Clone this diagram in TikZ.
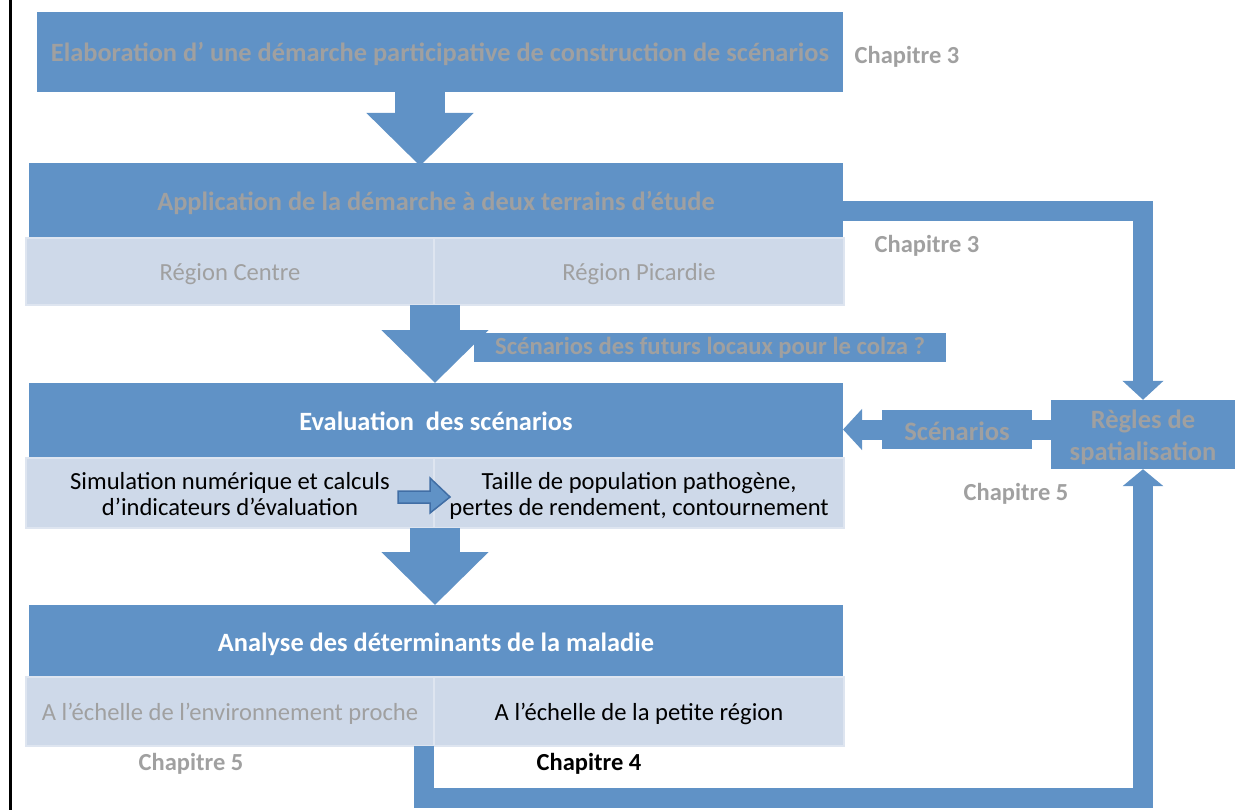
\documentclass[tikz,border=0pt]{standalone}
\usepackage{fontspec}
\setmainfont{Carlito}
\usetikzlibrary{arrows.meta,calc}
\definecolor{mainblue}{RGB}{96,146,198}
\definecolor{lightblue}{RGB}{206,217,233}
\definecolor{subborder}{RGB}{222,229,240}
\definecolor{graytxt}{RGB}{160,160,160}
\definecolor{arrowline}{RGB}{65,110,165}
\begin{document}
\begin{tikzpicture}[x=1pt,y=-1pt,
  bigbox/.style={fill=mainblue,inner sep=0pt,outer sep=0pt,minimum width=814pt,minimum height=75pt,text height=25pt,text depth=5pt,font=\fontsize{26.4}{30}\selectfont\bfseries},
  subbox/.style={fill=lightblue,draw=subborder,line width=1.5pt,inner sep=0pt,outer sep=0pt,minimum height=68pt,text height=23pt,text depth=5pt,font=\fontsize{24.6}{26}\selectfont,align=center},
  twoline/.style={text height=49pt,text depth=5pt},
  gtxt/.style={text=graytxt},
  chap/.style={font=\fontsize{24.5}{28}\selectfont\bfseries,inner sep=0pt},
  downarrow/.style={draw=mainblue,line width=50pt,-{Triangle[length=53pt,width=104pt]}},
  band/.style={draw=mainblue,line width=20pt,line join=miter},
]
\useasboundingbox (0,0) rectangle (1247,810);
\draw[line width=3pt] (10,0) -- (10,810);

% boxes
\node[bigbox,gtxt,minimum width=806pt,minimum height=80pt] (b1) at (440,52) {Elaboration d’ une démarche participative de construction de scénarios};
\node[chap,gtxt] (c1) at (907,57) {Chapitre 3};

\node[bigbox,gtxt] (b2) at (436,200.5) {Application de la démarche à deux terrains d’étude};
\node[subbox,gtxt,minimum width=408pt,minimum height=67pt] (s2l) at (230,271.5) {Région Centre};
\node[subbox,gtxt,minimum width=410pt,minimum height=67pt] (s2r) at (639,271.5) {Région Picardie};
\node[chap,gtxt] (c2) at (927,246) {Chapitre 3};

\node[bigbox,text=white] (b3) at (436,420.5) {Evaluation\ \ des scénarios};
\node[subbox,twoline,minimum width=408pt,minimum height=70pt] (s3l) at (230,493) {Simulation numérique et calculs\\d’indicateurs d’évaluation};
\node[subbox,twoline,minimum width=410pt,minimum height=70pt] (s3r) at (639,493) {Taille de population pathogène,\\pertes de rendement, contournement};

\node[bigbox,text=white,minimum height=72pt] (b4) at (436,641) {Analyse des déterminants de la maladie};
\node[subbox,gtxt,minimum width=408pt,minimum height=69pt] (s4l) at (230,711.5) {A l’échelle de l’environnement proche};
\node[subbox,minimum width=410pt,minimum height=69pt] (s4r) at (639,711.5) {A l’échelle de la petite région};
\node[chap,gtxt] (c5a) at (191,764) {Chapitre 5};
\node[chap] (c4) at (589,764) {Chapitre 4};

\node[fill=mainblue,inner sep=0pt,minimum width=184pt,minimum height=69pt,align=center,gtxt,text height=56pt,text depth=5pt,font=\fontsize{26.5}{32}\selectfont\bfseries] (regles) at (1143,434.5) {Règles de\\spatialisation};
\node[chap,gtxt] (c5b) at (1016,494) {Chapitre 5};

% down arrows
\draw[downarrow] (420,92) -- (420,166);
\draw[downarrow] (435,305) -- (b3.north -| 435,0);
\draw[downarrow] (435,528) -- (b4.north -| 435,0);

\node[fill=mainblue,inner sep=0pt,minimum width=472pt,minimum height=29pt,gtxt,font=\fontsize{24.7}{28}\selectfont\bfseries] (q) at (710,347.5) {Scénarios des futurs locaux pour le colza ?};

% small arrow between sub-boxes
\filldraw[fill=mainblue,draw=arrowline,line width=1.5pt,line join=miter]
  (398,491) -- (430,491) -- (430,478) -- (450,497) -- (430,513) -- (430,503) -- (398,503) -- cycle;

% elbow connectors
\coordinate (top) at (0,211);
\coordinate (bot) at (0,797.5);
\coordinate (mid) at (0,429.5);
\draw[band,-{Triangle[length=19pt,width=40pt]}] (b2.east |- top) -| (regles.north);
\draw[band,-{Triangle[length=17pt,width=40pt]}] ($(s4l.south east)+(-10,0)$) |- (regles.south |- bot) -- (regles.south);
\draw[band,-{Triangle[length=19pt,width=40pt]}] (regles.west |- mid) -- (b3.east |- mid);
\node[fill=mainblue,inner sep=0pt,minimum width=150pt,minimum height=39pt,gtxt,text height=26pt,text depth=5pt,font=\fontsize{26.6}{30}\selectfont\bfseries] (scen) at (957,429.5) {Scénarios};
\end{tikzpicture}
\end{document}
